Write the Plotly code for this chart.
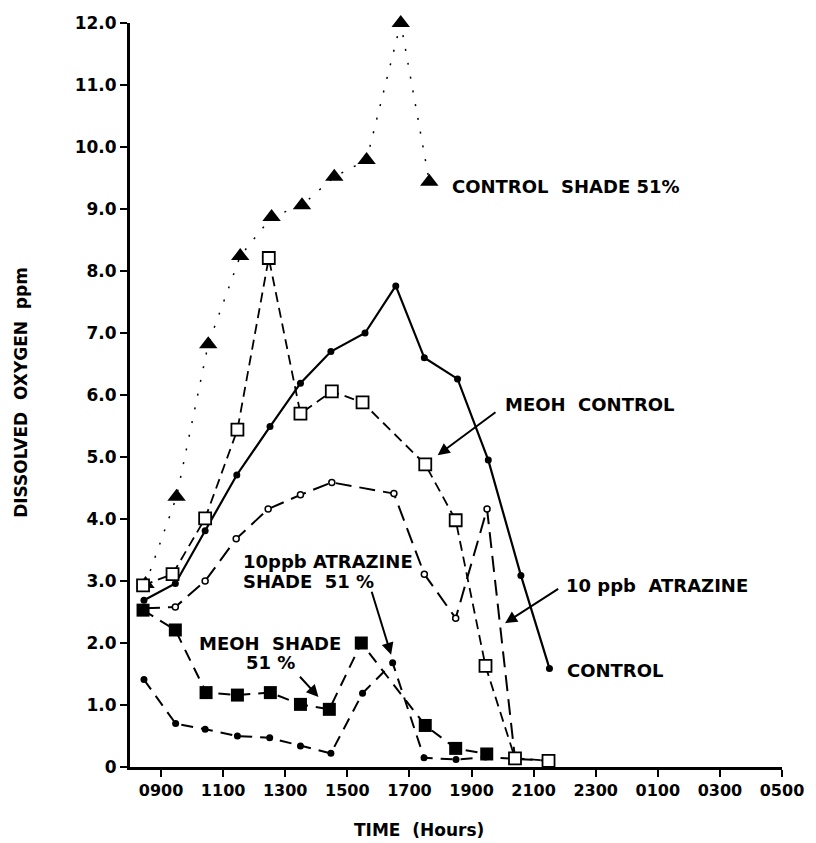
import plotly.graph_objects as go

# Sampling times in decimal hours (values past 24 run into the next morning)
control_t = [8.45, 9.46, 10.42, 11.44, 12.51, 13.49, 14.47, 15.57, 16.56, 17.48, 18.55, 19.54, 20.59, 21.51]
control_do = [2.69, 2.96, 3.81, 4.71, 5.49, 6.19, 6.70, 7.00, 7.76, 6.60, 6.26, 4.95, 3.09, 1.59]

meoh_t = [8.42, 9.37, 10.42, 11.46, 12.47, 13.49, 14.50, 15.49, 17.51, 18.49, 19.45, 20.40, 21.48]
meoh_do = [2.93, 3.11, 4.01, 5.44, 8.21, 5.70, 6.06, 5.88, 4.88, 3.98, 1.63, 0.14, 0.10]

atz_t = [8.45, 9.46, 10.42, 11.42, 12.45, 13.49, 14.50, 16.50, 17.48, 18.49, 19.50, 20.40]
atz_do = [2.56, 2.58, 3.00, 3.68, 4.16, 4.39, 4.59, 4.41, 3.11, 2.40, 4.16, 0.14]

atz_shade_t = [8.45, 9.47, 10.42, 11.46, 12.50, 13.49, 14.47, 15.49, 16.46, 17.47, 18.50, 19.45, 20.40, 21.48]
atz_shade_do = [1.41, 0.70, 0.61, 0.50, 0.47, 0.34, 0.22, 1.19, 1.68, 0.15, 0.12, 0.16, 0.13, 0.10]

meoh_shade_t = [8.42, 9.46, 10.45, 11.46, 12.52, 13.49, 14.42, 15.45, 17.51, 18.49, 19.49]
meoh_shade_do = [2.53, 2.21, 1.20, 1.16, 1.20, 1.01, 0.93, 2.00, 0.67, 0.30, 0.21]

ctrl_shade_t = [8.50, 9.50, 10.52, 11.55, 12.56, 13.54, 14.58, 15.62, 16.72, 17.64]
ctrl_shade_do = [2.95, 4.36, 6.82, 8.24, 8.87, 9.06, 9.52, 9.79, 12.0, 9.44]

x_tickvals = [9, 11, 13, 15, 17, 19, 21, 23, 25, 27, 29]
x_ticktext = ["0900", "1100", "1300", "1500", "1700", "1900", "2100", "2300", "0100", "0300", "0500"]
y_tickvals = list(range(0, 13))
y_ticktext = ["0"] + [f"{v}.0" for v in range(1, 13)]

FONT = "DejaVu Sans"
INK = "black"

fig = go.Figure()

# Control shade 51 %: filled triangles joined by a sparse dotted line
fig.add_trace(go.Scatter(
    x=ctrl_shade_t, y=ctrl_shade_do, mode="lines+markers",
    line=dict(color=INK, width=1.5, dash="2px,12px"),
    marker=dict(symbol="triangle-up", size=16, color=INK),
    cliponaxis=False,
))

# Control: solid line, filled dots
fig.add_trace(go.Scatter(
    x=control_t, y=control_do, mode="lines+markers",
    line=dict(color=INK, width=2.2),
    marker=dict(symbol="circle", size=7, color=INK),
    cliponaxis=False,
))

# 10 ppb atrazine: long dashes, small open circles
fig.add_trace(go.Scatter(
    x=atz_t, y=atz_do, mode="lines+markers",
    line=dict(color=INK, width=2, dash="16px,8px"),
    marker=dict(symbol="circle", size=6, color="white", line=dict(color=INK, width=1.5)),
    cliponaxis=False,
))

# 10 ppb atrazine shade 51 %: dashes, small filled dots
fig.add_trace(go.Scatter(
    x=atz_shade_t, y=atz_shade_do, mode="lines+markers",
    line=dict(color=INK, width=2, dash="12px,8px"),
    marker=dict(symbol="circle", size=7, color=INK),
    cliponaxis=False,
))

# MEOH shade 51 %: dashes, filled squares
fig.add_trace(go.Scatter(
    x=meoh_shade_t, y=meoh_shade_do, mode="lines+markers",
    line=dict(color=INK, width=2, dash="12px,8px"),
    marker=dict(symbol="square", size=13, color=INK),
    cliponaxis=False,
))

# MEOH control: short dashes, open squares
fig.add_trace(go.Scatter(
    x=meoh_t, y=meoh_do, mode="lines+markers",
    line=dict(color=INK, width=1.8, dash="10px,6px"),
    marker=dict(symbol="square", size=12, color="white", line=dict(color=INK, width=1.8)),
    cliponaxis=False,
))

# Labels, with arrows where a label points at its curve
labels = [
    ("CONTROL  SHADE 51%", 18.32, 9.37),
    ("MEOH  CONTROL", 20.02, 5.84),
    ("10 ppb  ATRAZINE", 21.97, 2.92),
    ("CONTROL", 22.0, 1.56),
    ("10ppb ATRAZINE", 11.58, 3.32),
    ("SHADE  51 %", 11.58, 3.0),
    ("MEOH  SHADE", 10.17, 2.0),
    ("51 %", 11.68, 1.68),
]
for text, lx, ly in labels:
    fig.add_annotation(
        x=lx, y=ly, xref="x", yref="y", text=text, showarrow=False,
        xanchor="left", yanchor="middle",
        font=dict(family=FONT, size=18, color=INK, weight=700),
    )

arrows = [
    # (tail_x, tail_y, tip_x, tip_y)
    (19.82, 5.74, 17.91, 5.03),
    (21.84, 2.89, 20.08, 2.32),
    (15.77, 2.85, 16.41, 1.81),
    (13.43, 1.48, 14.07, 1.13),
]
for ax_, ay_, tx, ty in arrows:
    fig.add_annotation(
        x=tx, y=ty, ax=ax_, ay=ay_, xref="x", yref="y", axref="x", ayref="y",
        text="", showarrow=True, arrowhead=2, arrowsize=1.2, arrowwidth=2,
        arrowcolor=INK, standoff=0, startstandoff=0,
    )

# Axis titles
fig.add_annotation(
    x=-110 / 657, y=0.504, xref="paper", yref="paper",
    text="DISSOLVED  OXYGEN  ppm", textangle=-90, showarrow=False,
    xanchor="center", yanchor="middle",
    font=dict(family=FONT, size=17, color=INK, weight=700),
)
fig.add_annotation(
    x=0.444, y=-63 / 744, xref="paper", yref="paper",
    text="TIME  (Hours)", showarrow=False,
    xanchor="center", yanchor="middle",
    font=dict(family=FONT, size=17, color=INK, weight=700),
)

fig.update_layout(
    width=816, height=843,
    margin=dict(l=130, r=29, t=23, b=76),
    paper_bgcolor="white", plot_bgcolor="white",
    showlegend=False,
    xaxis=dict(
        range=[8, 29], tickvals=x_tickvals, ticktext=x_ticktext,
        showgrid=False, zeroline=False,
        showline=True, linecolor=INK, linewidth=2.5,
        ticks="outside", ticklen=7, tickwidth=2, tickcolor=INK,
        tickfont=dict(family=FONT, size=16, color=INK, weight=700),
    ),
    yaxis=dict(
        range=[0, 12], tickvals=y_tickvals, ticktext=y_ticktext,
        showgrid=False, zeroline=False,
        showline=True, linecolor=INK, linewidth=3,
        ticks="outside", ticklen=7, tickwidth=2, tickcolor=INK,
        tickfont=dict(family=FONT, size=17, color=INK, weight=700),
    ),
)

fig.write_html("out.html")
